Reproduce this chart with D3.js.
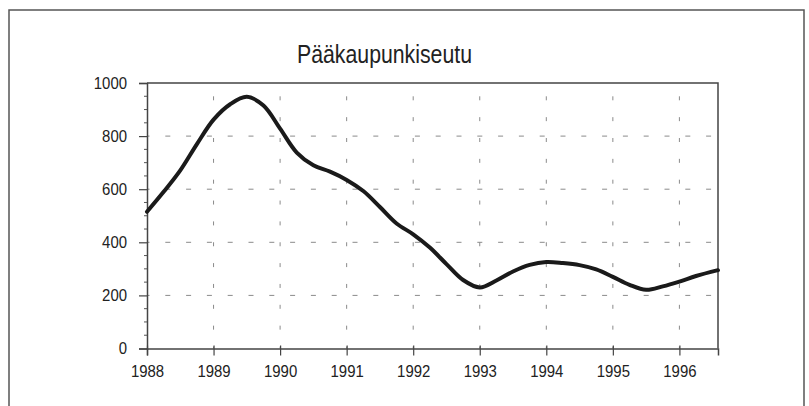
<!DOCTYPE html>
<html>
<head>
<meta charset="utf-8">
<script src="https://cdn.jsdelivr.net/npm/d3@7"></script>
<style>
  body { margin: 0; background: #fff; }
  svg { display: block; font-family: "Liberation Sans", Arial, sans-serif; }
</style>
</head>
<body>
<div id="chart"></div>
<script>
// Data (quarterly, last point mid 1996)
const years = [1988, 1988.25, 1988.5, 1988.75, 1989, 1989.25, 1989.5, 1989.75,
  1990, 1990.25, 1990.5, 1990.75, 1991, 1991.25, 1991.5, 1991.75,
  1992, 1992.25, 1992.5, 1992.75, 1993, 1993.25, 1993.5, 1993.75,
  1994, 1994.25, 1994.5, 1994.75, 1995, 1995.25, 1995.5, 1995.75,
  1996, 1996.25, 1996.58];
const values = [515, 590, 671, 770, 862, 920, 948, 915,
  828, 738, 690, 666, 635, 593, 533, 471,
  430, 380, 318, 258, 230, 256, 290, 315,
  326, 322, 314, 298, 270, 240, 221, 234,
  252, 273, 295];
const yearTicks = [1988, 1989, 1990, 1991, 1992, 1993, 1994, 1995, 1996];
const valueTicks = [0, 200, 400, 600, 800, 1000];
const title = "Pääkaupunkiseutu";

const width = 809, height = 406;
const margin = { top: 83, right: 91, bottom: 57.5, left: 147 };

const svg = d3.select("#chart")
  .append("svg")
  .attr("width", width)
  .attr("height", height)
  .attr("viewBox", [0, 0, width, height]);

// outer frame (bottom runs off the page)
svg.append("rect")
  .attr("x", 9).attr("y", 10)
  .attr("width", 795).attr("height", 420)
  .attr("fill", "none")
  .attr("stroke", "#555")
  .attr("stroke-width", 1.5);

const x = d3.scaleLinear([1988, 1996.58], [margin.left, width - margin.right]);
const y = d3.scaleLinear([0, 1000], [height - margin.bottom, margin.top]);

// title
svg.append("text")
  .attr("x", 384.5)
  .attr("y", 62.5)
  .attr("text-anchor", "middle")
  .attr("font-size", 26)
  .attr("fill", "#222")
  .attr("textLength", 175)
  .attr("lengthAdjust", "spacingAndGlyphs")
  .text(title);

// dashed grid
const grid = svg.append("g").attr("stroke", "#8a8a8a").attr("stroke-width", 1);
grid.selectAll(".h")
  .data(valueTicks.filter((d) => d > 0 && d < 1000))
  .join("line")
  .attr("x1", x(1988)).attr("x2", x.range()[1])
  .attr("y1", (d) => y(d)).attr("y2", (d) => y(d))
  .attr("stroke-dasharray", "5 15.8")
  .attr("stroke-dashoffset", 2.5);
grid.selectAll(".v")
  .data(yearTicks.slice(1))
  .join("line")
  .attr("x1", (d) => x(d)).attr("x2", (d) => x(d))
  .attr("y1", y(0)).attr("y2", y(1000))
  .attr("stroke-dasharray", "4 16.85")
  .attr("stroke-dashoffset", 2);

// box: top and right edges
svg.append("path")
  .attr("d", `M${x.range()[0]},${y(1000)}H${x.range()[1]}V${y(0)}`)
  .attr("fill", "none")
  .attr("stroke", "#444")
  .attr("stroke-width", 1.5);

// y axis
const yAxis = svg.append("g")
  .attr("transform", `translate(${margin.left},0)`)
  .call(d3.axisLeft(y).tickValues(valueTicks).tickSize(8).tickPadding(12).tickFormat(d3.format("d")));
yAxis.selectAll("line").attr("stroke", "#444").attr("stroke-width", 1.2);
yAxis.select(".domain").attr("stroke", "#444").attr("stroke-width", 1.5);

// minor y ticks every 50
yAxis.selectAll(".minor")
  .data(d3.range(50, 1000, 50).filter((d) => d % 200 !== 0))
  .join("line")
  .attr("x1", -3).attr("x2", 0)
  .attr("y1", (d) => y(d)).attr("y2", (d) => y(d))
  .attr("stroke", "#555");

// x axis
const xAxis = svg.append("g")
  .attr("transform", `translate(0,${height - margin.bottom})`)
  .call(d3.axisBottom(x).tickValues(yearTicks).tickSize(7).tickFormat(d3.format("d")));
xAxis.selectAll(".tick line").attr("y1", -3).attr("stroke", "#444").attr("stroke-width", 1.2);
xAxis.select(".domain").attr("stroke", "#444").attr("stroke-width", 1.5);
xAxis.selectAll("text").attr("y", 28).attr("dy", 0);

svg.selectAll(".tick text")
  .attr("font-size", 17)
  .attr("fill", "#222")
  .attr("font-family", "'Liberation Sans', Arial, sans-serif")
  .attr("textLength", (d) => String(d).length * 8.3)
  .attr("lengthAdjust", "spacingAndGlyphs");

// the series line
const series = years.map((d, i) => ({ year: d, value: values[i] }));
const line = d3.line()
  .curve(d3.curveCatmullRom.alpha(0.5))
  .x((d) => x(d.year))
  .y((d) => y(d.value));

svg.append("path")
  .datum(series)
  .attr("fill", "none")
  .attr("stroke", "#1a1a1a")
  .attr("stroke-width", 4)
  .attr("stroke-linejoin", "round")
  .attr("stroke-linecap", "round")
  .attr("d", line);
</script>
</body>
</html>
